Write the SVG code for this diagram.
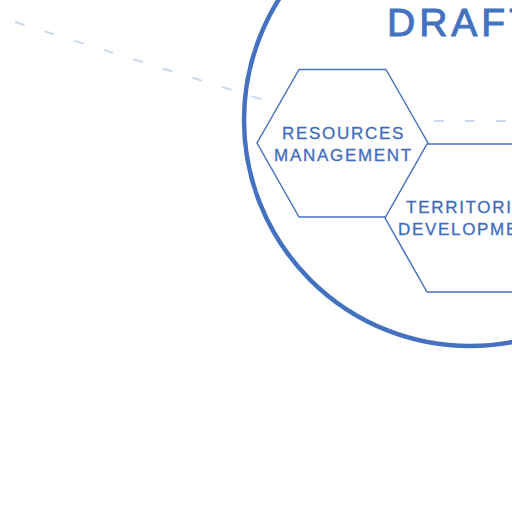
<svg xmlns="http://www.w3.org/2000/svg" width="512" height="512" viewBox="0 0 512 512">
<style>
.hex{fill:#ffffff;stroke:#4672bf;stroke-width:1.5;stroke-linejoin:round}
.lbl{font-family:"Liberation Sans",Arial,sans-serif;font-size:17px;fill:#3f6cbc;stroke:#3f6cbc;stroke-width:0.3;letter-spacing:1.7px;text-anchor:middle}
.edge{fill:none;stroke:#c9daf0;stroke-width:2;stroke-dasharray:10 21}
</style>
<rect width="512" height="512" fill="#ffffff"/>
<g id="connectors">
<path class="edge" d="M15,22 L330,121 L512,121"/>
</g>
<g id="boundary">
<circle cx="470" cy="120" r="226" fill="none" stroke="#4472c0" stroke-width="4.5"/>
<text x="387" y="36" font-family="Liberation Sans,Arial,sans-serif" font-size="39" fill="#4472c0" stroke="#4472c0" stroke-width="1" letter-spacing="4">DRAFT</text>
</g>
<g id="resources">
<polygon class="hex" points="257,143 299,69.5 386,69.5 428,143 386,217 299,217"/>
<text class="lbl" x="343.5" y="139">RESOURCES</text>
<text class="lbl" x="343.5" y="161">MANAGEMENT</text>
</g>
<g id="territorial">
<polygon class="hex" points="385,218 427,144 514,144 556,218 514,292 427,292"/>
<text class="lbl" x="471.5" y="213">TERRITORIAL</text>
<text class="lbl" x="471.5" y="235">DEVELOPMENT</text>
</g>
</svg>
